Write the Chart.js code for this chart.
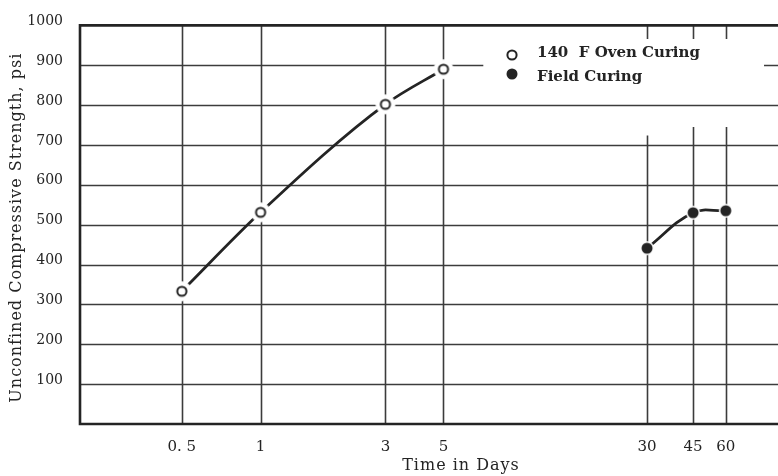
<!DOCTYPE html>
<html>
<head>
<meta charset="utf-8">
<script src="https://cdn.jsdelivr.net/npm/chart.js@4.4.1/dist/chart.umd.min.js"></script>
<style>
  html, body { margin: 0; padding: 0; background: #fff; }
  #wrap { width: 778px; height: 476px; }
</style>
</head>
<body>
<div id="wrap"><canvas id="grafikKuat"></canvas></div>
<script>
const xTicks = [0.5, 1, 3, 5, 30, 45, 60];
const xTickLabels = ['0. 5', '1', '3', '5', '30', '45', '60'];
const yTicks = [100, 200, 300, 400, 500, 600, 700, 800, 900, 1000];
const ovenDays = [0.5, 1, 3, 5];
const ovenPsi = [333, 531, 802, 890];
const fieldDays = [30, 45, 60];
const fieldPsi = [441, 530, 535];
const seriesNames = ['140  F Oven Curing', 'Field Curing'];
const xTitle = 'Time in Days';
const yTitle = 'Unconfined Compressive Strength, psi';

const ink = '#242424';
const serif = "'DejaVu Serif', 'Liberation Serif', serif";

// marker drawn with a white halo so the curve stops short of it, like the original
function marker(filled, halo) {
    const c = document.createElement('canvas');
    const s = halo * 2 + 2;
    c.width = c.height = s;
    const g = c.getContext('2d');
    g.fillStyle = '#fff';
    g.beginPath(); g.arc(s / 2, s / 2, halo, 0, Math.PI * 2); g.fill();
    g.beginPath();
    if (filled) {
        g.fillStyle = ink;
        g.arc(s / 2, s / 2, 5.5, 0, Math.PI * 2); g.fill();
    } else {
        g.strokeStyle = ink; g.lineWidth = 2;
        g.arc(s / 2, s / 2, 4.6, 0, Math.PI * 2); g.stroke();
    }
    return c;
}

const paperGrid = {
    id: 'paperGrid',
    beforeDatasetsDraw(chart) {
        const { ctx, chartArea: a, scales: { x, y } } = chart;
        ctx.save();
        ctx.strokeStyle = '#3c3c3c';
        ctx.lineWidth = 1.6;
        yTicks.slice(0, -1).forEach(function(v) {
            const py = Math.round(y.getPixelForValue(v)) + 0.5;
            ctx.beginPath();
            ctx.moveTo(a.left, py);
            if (v === 900) {
                // broken behind the key
                ctx.lineTo(x.getPixelForValue(7.1), py);
                ctx.moveTo(x.getPixelForValue(84), py);
            }
            ctx.lineTo(a.right, py);
            ctx.stroke();
        });
        xTicks.forEach(function(v) {
            const px = Math.round(x.getPixelForValue(v)) + 0.5;
            const from = v >= 45 ? 745 : (v >= 30 ? 724 : 1000);
            ctx.beginPath();
            ctx.moveTo(px, y.getPixelForValue(from));
            ctx.lineTo(px, a.bottom);
            if (v >= 30) {
                ctx.moveTo(px, a.top);
                ctx.lineTo(px, y.getPixelForValue(966));
            }
            ctx.stroke();
        });
        // frame: top, left, bottom
        ctx.strokeStyle = ink;
        ctx.lineWidth = 2.6;
        ctx.beginPath();
        ctx.moveTo(a.right, a.top); ctx.lineTo(a.left, a.top);
        ctx.lineTo(a.left, a.bottom); ctx.lineTo(a.right, a.bottom);
        ctx.stroke();
        ctx.restore();
    },
    afterDraw(chart) {
        const { ctx, chartArea: a } = chart;
        ctx.save();
        ctx.drawImage(marker(false, 6), 512 - 7, 55 - 7);
        ctx.drawImage(marker(true, 6), 512 - 7, 74 - 7);
        ctx.fillStyle = ink;
        ctx.font = 'bold 15px ' + serif;
        ctx.textBaseline = 'middle';
        ctx.fillText(seriesNames[0], 537, 53);
        ctx.fillText(seriesNames[1], 537, 77);
        ctx.font = '16px ' + serif;
        ctx.letterSpacing = '1px';
        ctx.textAlign = 'center';
        ctx.fillText(xTitle, 461, 466);
        ctx.translate(17, (a.top + a.bottom) / 2 + 3);
        ctx.rotate(-Math.PI / 2);
        ctx.fillText(yTitle, 0, 0);
        ctx.restore();
    }
};

const ctx = document.getElementById('grafikKuat').getContext('2d');
new Chart(ctx, {
    type: 'line',
    data: {
        datasets: [{
            label: seriesNames[0],
            data: ovenDays.map((d, i) => ({ x: d, y: ovenPsi[i] })),
            borderColor: ink,
            borderWidth: 2.8,
            cubicInterpolationMode: 'monotone',
            pointStyle: marker(false, 10),
            pointRadius: 10
        }, {
            label: seriesNames[1],
            data: fieldDays.map((d, i) => ({ x: d, y: fieldPsi[i] })),
            borderColor: ink,
            borderWidth: 2.8,
            tension: 0.4,
            pointStyle: marker(true, 7),
            pointRadius: 7
        }]
    },
    options: {
        responsive: true,
        maintainAspectRatio: false,
        animation: false,
        layout: { autoPadding: false, padding: { top: 25, right: 0, left: 0, bottom: 0 } },
        plugins: {
            legend: { display: false },
            tooltip: { enabled: false }
        },
        scales: {
            x: {
                type: 'logarithmic',
                bounds: 'data',
                min: 0.204,
                max: 95,
                grid: { display: false },
                border: { display: false },
                afterBuildTicks: function(scale) {
                    scale.ticks = xTicks.map(v => ({ value: v }));
                },
                afterFit: function(scale) {
                    scale.height = 52;
                    scale.paddingLeft = 0;
                    scale.paddingRight = 0;
                },
                ticks: {
                    autoSkip: false,
                    maxRotation: 0,
                    padding: 6,
                    color: ink,
                    font: { family: serif, size: 15 },
                    callback: function(value) {
                        const i = xTicks.indexOf(value);
                        return i < 0 ? '' : xTickLabels[i];
                    }
                }
            },
            y: {
                min: 0,
                max: 1000,
                grid: { display: false, drawTicks: false },
                border: { display: false },
                afterFit: function(scale) { scale.width = 80; },
                ticks: {
                    stepSize: 100,
                    padding: 17,
                    labelOffset: -4,
                    color: ink,
                    font: { family: serif, size: 14 },
                    callback: function(value) {
                        return value === 0 ? '' : value;
                    }
                }
            }
        }
    },
    plugins: [paperGrid]
});
</script>
</body>
</html>
